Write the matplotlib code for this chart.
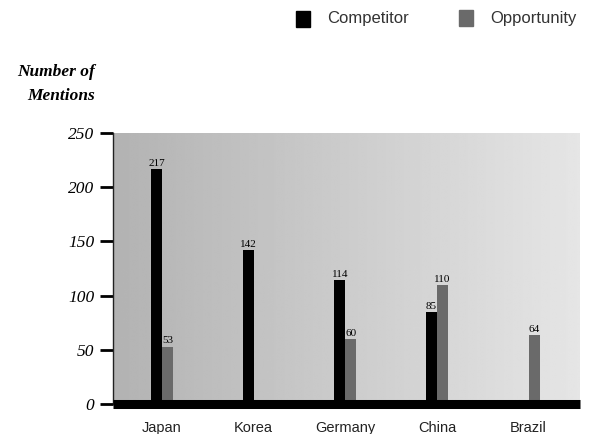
import numpy as np
import matplotlib.pyplot as plt
from matplotlib.patches import Rectangle

countries = ["Japan", "Korea", "Germany", "China", "Brazil"]
competitor = [217, 142, 114, 85, 0]
opportunity = [53, 0, 60, 110, 64]
y_ticks = [0, 50, 100, 150, 200, 250]

comp_color = "#000000"
opp_color = "#6a6a6a"

fig = plt.figure(figsize=(5.96, 4.34), dpi=100)
fig.patch.set_facecolor("white")
ax = fig.add_axes([0.1896, 0.0691, 0.7834, 0.6244])

x = np.arange(len(countries))
width = 0.12
ax.set_xlim(-0.535, 4.56)
ax.set_ylim(0, 250)

# shaded backdrop, darker on the left, lighter on the right
grad = np.linspace(0.70, 0.90, 256).reshape(1, -1)
ax.imshow(grad, cmap="gray", vmin=0, vmax=1, aspect="auto",
          extent=(-0.535, 4.56, 0, 250), zorder=0, interpolation="bilinear")

serif = "Liberation Serif"
sans = "Liberation Sans"

for xi, c, o in zip(x, competitor, opportunity):
    if c > 0:
        ax.bar(xi - width / 2, c, width, color=comp_color, zorder=2)
        ax.text(xi - width / 2, c + 1, str(c), ha="center", va="bottom",
                fontsize=8, family=serif, zorder=3)
    if o > 0:
        ax.bar(xi + width / 2, o, width, color=opp_color, zorder=2)
        ax.text(xi + width / 2, o + 1, str(o), ha="center", va="bottom",
                fontsize=8, family=serif, zorder=3)

# heavy baseline at zero
ax.axhline(0, color="black", linewidth=6.5, zorder=4, clip_on=False,
           solid_capstyle="butt")

for s in ["top", "right", "bottom"]:
    ax.spines[s].set_visible(False)
ax.spines["left"].set_linewidth(1.0)
ax.spines["left"].set_color("#222222")

ax.set_yticks(y_ticks)
ax.set_yticklabels([str(v) for v in y_ticks], family=serif, style="italic",
                   fontsize=12.5)
ax.tick_params(axis="y", length=9.5, width=2, pad=4, color="black")
ax.set_xticks(x)
ax.set_xticklabels(countries, family=sans, fontsize=10.5, color="#222222")
ax.tick_params(axis="x", length=0, pad=12)

fig.text(0.160, 0.824, "Number of", ha="right", va="baseline",
         family=serif, style="italic", weight="bold", fontsize=12.5)
fig.text(0.160, 0.770, "Mentions", ha="right", va="baseline",
         family=serif, style="italic", weight="bold", fontsize=12.5)

# legend
fig.patches.append(Rectangle((296 / 596, 1 - 27 / 434), 14 / 596, 16 / 434,
                             transform=fig.transFigure, color=comp_color))
fig.text(327 / 596, 1 - 19 / 434, "Competitor", ha="left", va="center",
         family=sans, fontsize=12, color="#333333")
fig.patches.append(Rectangle((459 / 596, 1 - 26 / 434), 14 / 596, 16 / 434,
                             transform=fig.transFigure, color=opp_color))
fig.text(490 / 596, 1 - 19 / 434, "Opportunity", ha="left", va="center",
         family=sans, fontsize=12, color="#333333")

fig.savefig("out.png", dpi=100)
